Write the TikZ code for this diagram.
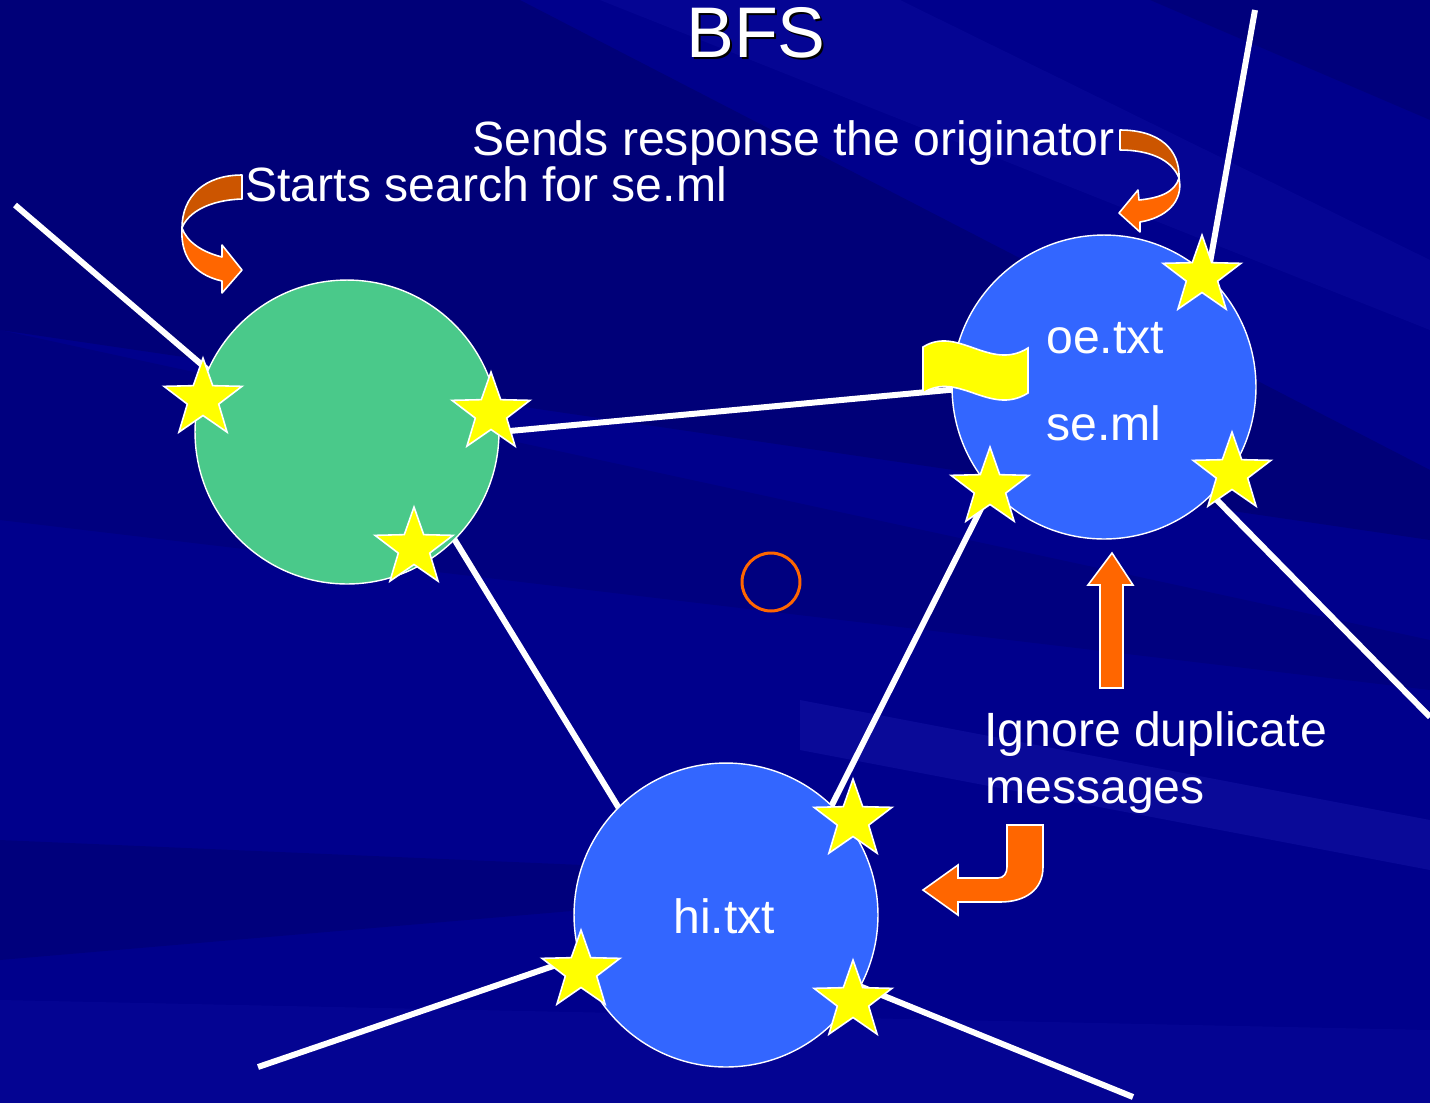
\documentclass[tikz,border=0pt]{standalone}
\usepackage{fontspec}
\setmainfont{Liberation Sans}
\usetikzlibrary{calc}
\definecolor{bgmain}{RGB}{0,0,140}
\definecolor{bgdark}{RGB}{0,0,90}
\definecolor{bglight}{RGB}{40,40,190}
\definecolor{nodegreen}{RGB}{74,201,138}
\definecolor{nodeblue}{RGB}{51,102,255}
\definecolor{arrfront}{RGB}{255,102,0}
\definecolor{arrback}{RGB}{204,85,0}
\definecolor{staryellow}{RGB}{255,255,0}
\pgfdeclarelayer{back}
\pgfdeclarelayer{links}
\pgfsetlayers{back,links,main}
\tikzset{
  peer/.style={circle, draw=white, line width=0.8pt, minimum size=6.08cm, inner sep=0pt, outer sep=0pt},
  link/.style={draw=white, line width=3.4pt},
  starst/.style={fill=staryellow, draw=white, line width=0.9pt, line join=miter},
  arrowshape/.style={draw=white, line width=0.9pt, line join=round},
  lbl/.style={text=white, anchor=base west, inner sep=0pt, font=\fontsize{27.4pt}{32pt}\selectfont},
  titlefont/.style={anchor=base, inner sep=0pt, font=\fontsize{40.8pt}{46pt}\selectfont},
}
\newcommand{\ystar}[2]{\draw[starst] (#1,#2) +(90:0.82cm) -- +(126:0.33cm) -- +(162:0.82cm) -- +(198:0.33cm) -- +(234:0.82cm) -- +(270:0.33cm) -- +(306:0.82cm) -- +(342:0.33cm) -- +(18:0.82cm) -- +(54:0.33cm) -- cycle;}
\begin{document}
\begin{tikzpicture}[x=0.02cm, y=-0.02cm]
\useasboundingbox (0,0) rectangle (1430,1103);
\clip (0,0) rectangle (1430,1103);
\begin{pgfonlayer}{back}
  \fill[bgmain] (0,0) rectangle (1430,1103);
  \fill[bgdark, opacity=0.4] (0,0) -- (520,0) -- (1430,470) -- (1430,540) -- (0,330) -- cycle;
  \fill[bgdark, opacity=0.25] (0,330) -- (1430,640) -- (1430,690) -- (0,520) -- cycle;
  \fill[bgdark, opacity=0.3] (1150,0) -- (1430,0) -- (1430,120) -- cycle;
  \fill[bglight, opacity=0.15] (600,0) -- (900,0) -- (1430,260) -- (1430,330) -- cycle;
  \fill[bglight, opacity=0.25] (800,700) -- (1430,820) -- (1430,870) -- (800,750) -- cycle;
  \fill[bgdark, opacity=0.3] (0,840) -- (700,870) -- (700,900) -- (0,960) -- cycle;
  \fill[bglight, opacity=0.12] (0,1000) -- (1430,1030) -- (1430,1103) -- (0,1103) -- cycle;
\end{pgfonlayer}

% peers
\node[peer, fill=nodegreen] (g) at (347,432) {};
\node[peer, fill=nodeblue] (b1) at (1104,387) {};
\node[peer, fill=nodeblue] (h) at (726,915) {};

\coordinate (tl) at (15,205);
\coordinate (tr) at (1255,10);
\coordinate (br) at (1430,717);
\coordinate (bl) at (258,1067);
\coordinate (bbr) at (1133,1097);

\begin{pgfonlayer}{links}
  \draw[link] (g.156) -- (tl);
  \draw[link] (g.0) -- (b1.181);
  \draw[link] (g.-45) -- (h.135);
  \draw[link] (b1.222) -- (h.46);
  \draw[link] (b1.47) -- (tr);
  \draw[link] (b1.-45) -- (br);
  \draw[link] (h.196) -- (bl);
  \draw[link] (h.-28) -- (bbr);
\end{pgfonlayer}

% flag
\draw[fill=staryellow, draw=white, line width=0.9pt] (923,347) .. controls (958,325) and (990,372) .. (1028,348) -- (1028,393) .. controls (990,417) and (958,370) .. (923,393) -- cycle;

% stars
\ystar{203}{399}
\ystar{491}{413}
\ystar{414}{548}
\ystar{1202}{276}
\ystar{990}{488}
\ystar{1232}{473}
\ystar{853}{820}
\ystar{581}{971}
\ystar{853}{1001}

% texts in peers
\node[lbl] (t5) at (1046,353) {oe.txt};
\node[lbl] (t6) at (1046,440) {se.ml};
\node[lbl] (t7) at (673,933) {hi.txt};

% title
\node[titlefont, text=black] (bfsshadow) at (758,59) {BFS};
\node[titlefont, text=white] (bfs) at (756,57) {BFS};

% labels
\node[lbl] (t1) at (245,201) {Starts search for se.ml};
\node[lbl] (t2) at (472,155) {Sends response the originator};
\node[lbl] (t3) at (984,746) {Ignore duplicate};
\node[lbl] (t4) at (985,803) {messages};

% left curved arrow
\draw[arrowshape, fill=arrback] (242,175) .. controls (205,175) and (182,196) .. (182,228) .. controls (188,212) and (210,200) .. (242,199) -- cycle;
\draw[arrowshape, fill=arrfront] (182,228) .. controls (180,262) and (200,276) .. (222,281) -- (222,293) -- (242,270) -- (222,245) -- (222,257) .. controls (202,252) and (187,242) .. (182,228) -- cycle;

% right curved arrow
\draw[arrowshape, fill=arrback] (1120,130) .. controls (1160,130) and (1180,150) .. (1179,178) .. controls (1172,160) and (1150,150) .. (1120,150) -- cycle;
\draw[arrowshape, fill=arrfront] (1179,178) .. controls (1184,202) and (1165,218) .. (1140,222) -- (1140,232) -- (1119,213) -- (1138,190) -- (1139,200) .. controls (1160,198) and (1175,192) .. (1179,178) -- cycle;

% up arrow
\draw[arrowshape, fill=arrfront, line join=miter] (1100,688) -- (1123,688) -- (1123,585) -- (1133,585) -- (1112,553) -- (1088,585) -- (1100,585) -- cycle;

% hook arrow
\draw[arrowshape, fill=arrfront, line join=miter] (1007,825) -- (1043,825) -- (1043,867) .. controls (1043,890) and (1025,902) .. (1000,902) -- (958,902) -- (958,915) -- (923,890) -- (958,865) -- (958,878) -- (998,878) .. controls (1004,878) and (1007,873) .. (1007,867) -- cycle;

% small orange circle
\draw[arrfront, line width=1.7pt] (771,582) circle[radius=0.58cm];
\end{tikzpicture}
\end{document}
